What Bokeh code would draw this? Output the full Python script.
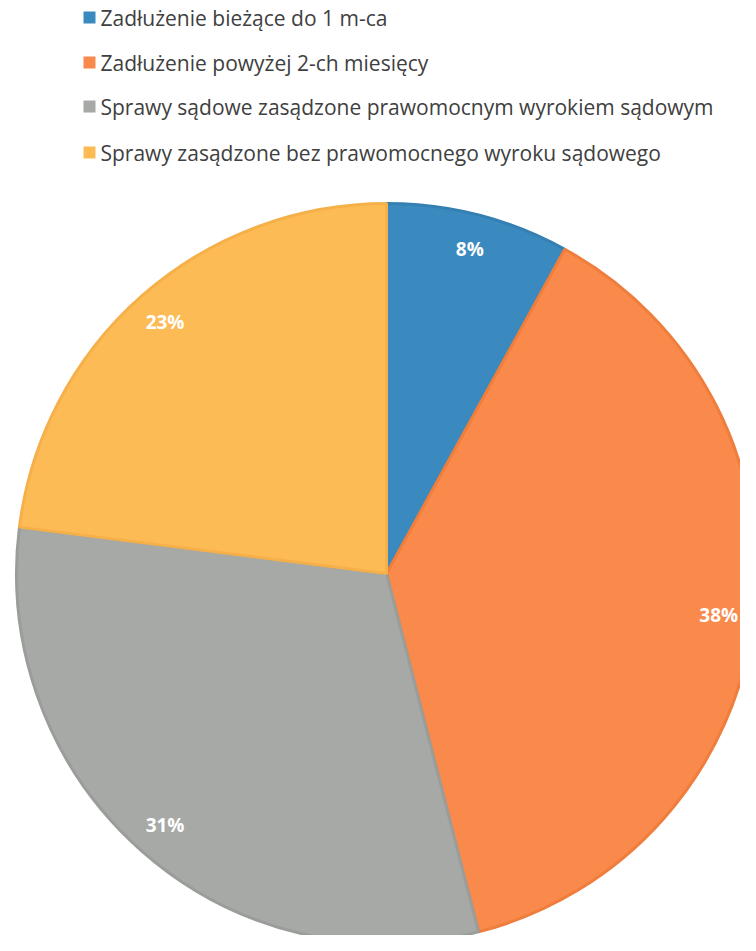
import numpy as np
from bokeh.plotting import figure
from bokeh.models import Range1d, ColumnDataSource
from bokeh.core.properties import value
from bokeh.embed import file_html
from bokeh.resources import INLINE

categories = [
    "Zadłużenie bieżące do 1 m-ca",
    "Zadłużenie powyżej 2-ch miesięcy",
    "Sprawy sądowe zasądzone prawomocnym wyrokiem sądowym",
    "Sprawy zasądzone bez prawomocnego wyroku sądowego",
]
values = [8, 38, 31, 23]
colors = ["#3b8abf", "#f98a4c", "#a6a9a6", "#fdbb55"]
edge_colors = ["#3580b3", "#ef7d3c", "#9a9d9a", "#f6b04a"]

W, H = 740, 935
p = figure(width=W, height=H, output_backend="svg", toolbar_location=None,
           x_range=Range1d(0, W), y_range=Range1d(0, H), min_border=0)
p.axis.visible = False
p.grid.visible = False
p.outline_line_color = None
p.background_fill_color = "white"

cx, cy, R = 386, 362, 370
vals = np.array(values, dtype=float)
frac = vals / vals.sum()
cum = np.concatenate([[0], np.cumsum(frac)])
start = np.pi / 2 - cum[:-1] * 2 * np.pi
end = np.pi / 2 - cum[1:] * 2 * np.pi
mid = (start + end) / 2
lr = R * 0.905
src = ColumnDataSource(dict(
    x=[cx] * len(vals), y=[cy] * len(vals), start=start, end=end,
    color=colors, edge=edge_colors,
    lx=cx + lr * np.cos(mid), ly=cy + lr * np.sin(mid),
    label=[f"{int(round(v))}%" for v in vals],
))
p.wedge(x="x", y="y", radius=R, start_angle="start", end_angle="end",
        direction="clock", fill_color="color", line_color="edge", line_width=3,
        source=src)
p.text(x="lx", y="ly", text="label", source=src, text_color="white",
       text_font=value("Open Sans"), text_font_style="bold", text_font_size="19px",
       text_align="center", text_baseline="middle")

# legend
rows = [918, 873, 829, 783]
leg = ColumnDataSource(dict(
    sx=[89] * 4, sy=rows, tx=[100] * 4, color=colors, label=categories))
p.rect(x="sx", y="sy", width=12, height=12, fill_color="color", line_color=None, source=leg)
p.text(x="tx", y="sy", text="label", source=leg, text_color="#404040",
       text_font=value("Open Sans"), text_font_size="21px",
       text_align="left", text_baseline="middle")

open("out.html", "w").write(file_html(p, INLINE))
